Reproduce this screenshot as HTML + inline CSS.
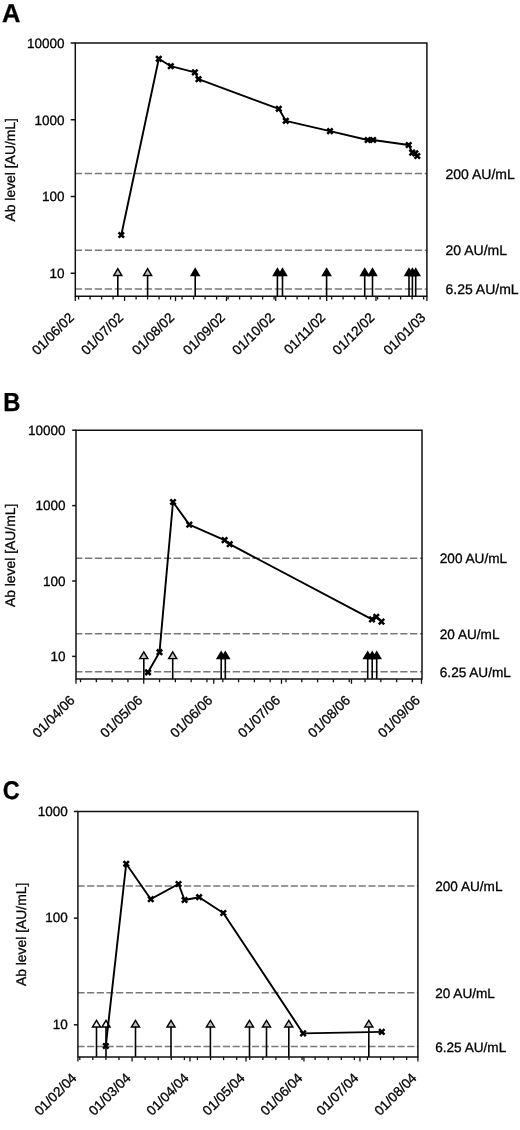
<!DOCTYPE html>
<html><head><meta charset="utf-8"><style>
html,body{margin:0;padding:0;background:#fff;}
body{width:520px;height:1130px;overflow:hidden;}
svg{display:block;font-family:"Liberation Sans", sans-serif;}
text{stroke:#000;stroke-width:0.3px;text-rendering:geometricPrecision;}
svg{will-change:transform;}
</style></head><body>
<svg width="520" height="1130" viewBox="0 0 520 1130" font-family='"Liberation Sans", sans-serif' fill="#000">
<rect width="520" height="1130" fill="#fff"/>
<line x1="75.30" y1="173.40" x2="426.90" y2="173.40" stroke="#787878" stroke-width="1.5" stroke-dasharray="7.4 2.6" stroke-dashoffset="0.6"/>
<line x1="75.30" y1="250.15" x2="426.90" y2="250.15" stroke="#787878" stroke-width="1.5" stroke-dasharray="7.4 2.6" stroke-dashoffset="0.6"/>
<line x1="75.30" y1="288.92" x2="426.90" y2="288.92" stroke="#787878" stroke-width="1.5" stroke-dasharray="7.4 2.6" stroke-dashoffset="0.6"/>
<text x="445.50" y="178.70" font-size="14">200 AU/mL</text>
<text x="445.50" y="255.45" font-size="14">20 AU/mL</text>
<text x="445.50" y="294.22" font-size="14">6.25 AU/mL</text>
<line x1="70.70" y1="43.00" x2="75.30" y2="43.00" stroke="#111" stroke-width="1.5"/>
<text x="64.60" y="47.80" font-size="13.5" text-anchor="end">10000</text>
<line x1="70.70" y1="119.75" x2="75.30" y2="119.75" stroke="#111" stroke-width="1.5"/>
<text x="64.60" y="124.55" font-size="13.5" text-anchor="end">1000</text>
<line x1="70.70" y1="196.50" x2="75.30" y2="196.50" stroke="#111" stroke-width="1.5"/>
<text x="64.60" y="201.30" font-size="13.5" text-anchor="end">100</text>
<line x1="70.70" y1="273.25" x2="75.30" y2="273.25" stroke="#111" stroke-width="1.5"/>
<text x="64.60" y="278.05" font-size="13.5" text-anchor="end">10</text>
<text transform="translate(14.50,169.80) rotate(-90)" font-size="13.9" text-anchor="middle">Ab level [AU/mL]</text>
<line x1="75.30" y1="296.35" x2="75.30" y2="301.05" stroke="#111" stroke-width="1.3"/>
<text transform="translate(74.80,318.35) rotate(-45)" font-size="13.6" text-anchor="end">01/06/02</text>
<line x1="78.59" y1="296.35" x2="78.59" y2="299.55" stroke="#111" stroke-width="1.3"/>
<line x1="90.09" y1="296.35" x2="90.09" y2="299.55" stroke="#111" stroke-width="1.3"/>
<line x1="101.59" y1="296.35" x2="101.59" y2="299.55" stroke="#111" stroke-width="1.3"/>
<line x1="113.09" y1="296.35" x2="113.09" y2="299.55" stroke="#111" stroke-width="1.3"/>
<line x1="124.59" y1="296.35" x2="124.59" y2="301.05" stroke="#111" stroke-width="1.3"/>
<text transform="translate(124.09,318.35) rotate(-45)" font-size="13.6" text-anchor="end">01/07/02</text>
<line x1="136.09" y1="296.35" x2="136.09" y2="299.55" stroke="#111" stroke-width="1.3"/>
<line x1="147.59" y1="296.35" x2="147.59" y2="299.55" stroke="#111" stroke-width="1.3"/>
<line x1="159.09" y1="296.35" x2="159.09" y2="299.55" stroke="#111" stroke-width="1.3"/>
<line x1="170.59" y1="296.35" x2="170.59" y2="299.55" stroke="#111" stroke-width="1.3"/>
<line x1="175.52" y1="296.35" x2="175.52" y2="301.05" stroke="#111" stroke-width="1.3"/>
<text transform="translate(175.02,318.35) rotate(-45)" font-size="13.6" text-anchor="end">01/08/02</text>
<line x1="182.09" y1="296.35" x2="182.09" y2="299.55" stroke="#111" stroke-width="1.3"/>
<line x1="193.60" y1="296.35" x2="193.60" y2="299.55" stroke="#111" stroke-width="1.3"/>
<line x1="205.10" y1="296.35" x2="205.10" y2="299.55" stroke="#111" stroke-width="1.3"/>
<line x1="216.60" y1="296.35" x2="216.60" y2="299.55" stroke="#111" stroke-width="1.3"/>
<line x1="226.46" y1="296.35" x2="226.46" y2="301.05" stroke="#111" stroke-width="1.3"/>
<text transform="translate(225.96,318.35) rotate(-45)" font-size="13.6" text-anchor="end">01/09/02</text>
<line x1="228.10" y1="296.35" x2="228.10" y2="299.55" stroke="#111" stroke-width="1.3"/>
<line x1="239.60" y1="296.35" x2="239.60" y2="299.55" stroke="#111" stroke-width="1.3"/>
<line x1="251.10" y1="296.35" x2="251.10" y2="299.55" stroke="#111" stroke-width="1.3"/>
<line x1="262.60" y1="296.35" x2="262.60" y2="299.55" stroke="#111" stroke-width="1.3"/>
<line x1="274.10" y1="296.35" x2="274.10" y2="299.55" stroke="#111" stroke-width="1.3"/>
<line x1="275.75" y1="296.35" x2="275.75" y2="301.05" stroke="#111" stroke-width="1.3"/>
<text transform="translate(275.25,318.35) rotate(-45)" font-size="13.6" text-anchor="end">01/10/02</text>
<line x1="285.60" y1="296.35" x2="285.60" y2="299.55" stroke="#111" stroke-width="1.3"/>
<line x1="297.11" y1="296.35" x2="297.11" y2="299.55" stroke="#111" stroke-width="1.3"/>
<line x1="308.61" y1="296.35" x2="308.61" y2="299.55" stroke="#111" stroke-width="1.3"/>
<line x1="320.11" y1="296.35" x2="320.11" y2="299.55" stroke="#111" stroke-width="1.3"/>
<line x1="326.68" y1="296.35" x2="326.68" y2="301.05" stroke="#111" stroke-width="1.3"/>
<text transform="translate(326.18,318.35) rotate(-45)" font-size="13.6" text-anchor="end">01/11/02</text>
<line x1="331.61" y1="296.35" x2="331.61" y2="299.55" stroke="#111" stroke-width="1.3"/>
<line x1="343.11" y1="296.35" x2="343.11" y2="299.55" stroke="#111" stroke-width="1.3"/>
<line x1="354.61" y1="296.35" x2="354.61" y2="299.55" stroke="#111" stroke-width="1.3"/>
<line x1="366.11" y1="296.35" x2="366.11" y2="299.55" stroke="#111" stroke-width="1.3"/>
<line x1="375.97" y1="296.35" x2="375.97" y2="301.05" stroke="#111" stroke-width="1.3"/>
<text transform="translate(375.47,318.35) rotate(-45)" font-size="13.6" text-anchor="end">01/12/02</text>
<line x1="377.61" y1="296.35" x2="377.61" y2="299.55" stroke="#111" stroke-width="1.3"/>
<line x1="389.11" y1="296.35" x2="389.11" y2="299.55" stroke="#111" stroke-width="1.3"/>
<line x1="400.61" y1="296.35" x2="400.61" y2="299.55" stroke="#111" stroke-width="1.3"/>
<line x1="412.12" y1="296.35" x2="412.12" y2="299.55" stroke="#111" stroke-width="1.3"/>
<line x1="423.62" y1="296.35" x2="423.62" y2="299.55" stroke="#111" stroke-width="1.3"/>
<line x1="426.90" y1="296.35" x2="426.90" y2="301.05" stroke="#111" stroke-width="1.3"/>
<text transform="translate(426.40,318.35) rotate(-45)" font-size="13.6" text-anchor="end">01/01/03</text>
<line x1="117.80" y1="275.25" x2="117.80" y2="296.35" stroke="#000" stroke-width="1.6"/>
<polygon points="117.80,267.35 112.50,276.15 123.10,276.15" fill="#000"/>
<polygon points="117.80,270.15 115.00,274.75 120.60,274.75" fill="#c4c4c4"/>
<line x1="147.60" y1="275.25" x2="147.60" y2="296.35" stroke="#000" stroke-width="1.6"/>
<polygon points="147.60,267.35 142.30,276.15 152.90,276.15" fill="#000"/>
<polygon points="147.60,270.15 144.80,274.75 150.40,274.75" fill="#c4c4c4"/>
<line x1="195.20" y1="275.25" x2="195.20" y2="296.35" stroke="#000" stroke-width="1.6"/>
<polygon points="195.20,267.35 189.90,276.15 200.50,276.15" fill="#000"/>
<line x1="277.40" y1="275.25" x2="277.40" y2="296.35" stroke="#000" stroke-width="1.6"/>
<polygon points="277.40,267.35 272.10,276.15 282.70,276.15" fill="#000"/>
<line x1="282.50" y1="275.25" x2="282.50" y2="296.35" stroke="#000" stroke-width="1.6"/>
<polygon points="282.50,267.35 277.20,276.15 287.80,276.15" fill="#000"/>
<line x1="326.60" y1="275.25" x2="326.60" y2="296.35" stroke="#000" stroke-width="1.6"/>
<polygon points="326.60,267.35 321.30,276.15 331.90,276.15" fill="#000"/>
<line x1="364.70" y1="275.25" x2="364.70" y2="296.35" stroke="#000" stroke-width="1.6"/>
<polygon points="364.70,267.35 359.40,276.15 370.00,276.15" fill="#000"/>
<line x1="372.50" y1="275.25" x2="372.50" y2="296.35" stroke="#000" stroke-width="1.6"/>
<polygon points="372.50,267.35 367.20,276.15 377.80,276.15" fill="#000"/>
<line x1="409.00" y1="275.25" x2="409.00" y2="296.35" stroke="#000" stroke-width="1.6"/>
<polygon points="409.00,267.35 403.70,276.15 414.30,276.15" fill="#000"/>
<line x1="412.40" y1="275.25" x2="412.40" y2="296.35" stroke="#000" stroke-width="1.6"/>
<polygon points="412.40,267.35 407.10,276.15 417.70,276.15" fill="#000"/>
<line x1="415.70" y1="275.25" x2="415.70" y2="296.35" stroke="#000" stroke-width="1.6"/>
<polygon points="415.70,267.35 410.40,276.15 421.00,276.15" fill="#000"/>
<polyline fill="none" stroke="#000" stroke-width="1.9" stroke-linejoin="round" points="121.30,235.00 158.80,58.80 170.80,66.20 194.90,72.40 198.50,79.20 278.80,108.80 285.80,120.80 330.00,131.20 367.70,140.00 373.10,140.00 408.70,145.00 412.20,152.60 415.30,153.40 417.30,156.00"/>
<path d="M118.60,232.30L124.00,237.70M124.00,232.30L118.60,237.70" stroke="#000" stroke-width="2.5"/>
<path d="M156.10,56.10L161.50,61.50M161.50,56.10L156.10,61.50" stroke="#000" stroke-width="2.5"/>
<path d="M168.10,63.50L173.50,68.90M173.50,63.50L168.10,68.90" stroke="#000" stroke-width="2.5"/>
<path d="M192.20,69.70L197.60,75.10M197.60,69.70L192.20,75.10" stroke="#000" stroke-width="2.5"/>
<path d="M195.80,76.50L201.20,81.90M201.20,76.50L195.80,81.90" stroke="#000" stroke-width="2.5"/>
<path d="M276.10,106.10L281.50,111.50M281.50,106.10L276.10,111.50" stroke="#000" stroke-width="2.5"/>
<path d="M283.10,118.10L288.50,123.50M288.50,118.10L283.10,123.50" stroke="#000" stroke-width="2.5"/>
<path d="M327.30,128.50L332.70,133.90M332.70,128.50L327.30,133.90" stroke="#000" stroke-width="2.5"/>
<path d="M365.00,137.30L370.40,142.70M370.40,137.30L365.00,142.70" stroke="#000" stroke-width="2.5"/>
<path d="M370.40,137.30L375.80,142.70M375.80,137.30L370.40,142.70" stroke="#000" stroke-width="2.5"/>
<path d="M406.00,142.30L411.40,147.70M411.40,142.30L406.00,147.70" stroke="#000" stroke-width="2.5"/>
<path d="M409.50,149.90L414.90,155.30M414.90,149.90L409.50,155.30" stroke="#000" stroke-width="2.5"/>
<path d="M412.60,150.70L418.00,156.10M418.00,150.70L412.60,156.10" stroke="#000" stroke-width="2.5"/>
<path d="M414.60,153.30L420.00,158.70M420.00,153.30L414.60,158.70" stroke="#000" stroke-width="2.5"/>
<path d="M75.30,43.00H426.90V296.35H75.30Z" fill="none" stroke="#111" stroke-width="1.5" stroke-linejoin="miter"/>
<text transform="translate(2,22) scale(1.0,1.02)" font-size="25.5" font-weight="bold">A</text>
<line x1="76.00" y1="558.30" x2="422.00" y2="558.30" stroke="#787878" stroke-width="1.5" stroke-dasharray="7.3 2.55" stroke-dashoffset="0.85"/>
<line x1="76.00" y1="633.70" x2="422.00" y2="633.70" stroke="#787878" stroke-width="1.5" stroke-dasharray="7.3 2.55" stroke-dashoffset="0.85"/>
<line x1="76.00" y1="671.79" x2="422.00" y2="671.79" stroke="#787878" stroke-width="1.5" stroke-dasharray="7.3 2.55" stroke-dashoffset="0.85"/>
<text x="439.80" y="563.40" font-size="13.6">200 AU/mL</text>
<text x="439.80" y="638.80" font-size="13.6">20 AU/mL</text>
<text x="439.80" y="676.89" font-size="13.6">6.25 AU/mL</text>
<line x1="72.20" y1="430.20" x2="76.00" y2="430.20" stroke="#111" stroke-width="1.5"/>
<text x="65.50" y="435.00" font-size="13.5" text-anchor="end">10000</text>
<line x1="72.20" y1="505.60" x2="76.00" y2="505.60" stroke="#111" stroke-width="1.5"/>
<text x="65.50" y="510.40" font-size="13.5" text-anchor="end">1000</text>
<line x1="72.20" y1="581.00" x2="76.00" y2="581.00" stroke="#111" stroke-width="1.5"/>
<text x="65.50" y="585.80" font-size="13.5" text-anchor="end">100</text>
<line x1="72.20" y1="656.40" x2="76.00" y2="656.40" stroke="#111" stroke-width="1.5"/>
<text x="65.50" y="661.20" font-size="13.5" text-anchor="end">10</text>
<text transform="translate(15.30,555.40) rotate(-90)" font-size="13.9" text-anchor="middle">Ab level [AU/mL]</text>
<line x1="76.00" y1="679.10" x2="76.00" y2="683.80" stroke="#111" stroke-width="1.3"/>
<text transform="translate(75.50,701.10) rotate(-45)" font-size="13.6" text-anchor="end">01/04/06</text>
<line x1="80.52" y1="679.10" x2="80.52" y2="682.30" stroke="#111" stroke-width="1.3"/>
<line x1="96.32" y1="679.10" x2="96.32" y2="682.30" stroke="#111" stroke-width="1.3"/>
<line x1="112.13" y1="679.10" x2="112.13" y2="682.30" stroke="#111" stroke-width="1.3"/>
<line x1="127.93" y1="679.10" x2="127.93" y2="682.30" stroke="#111" stroke-width="1.3"/>
<line x1="143.74" y1="679.10" x2="143.74" y2="683.80" stroke="#111" stroke-width="1.3"/>
<text transform="translate(143.24,701.10) rotate(-45)" font-size="13.6" text-anchor="end">01/05/06</text>
<line x1="159.55" y1="679.10" x2="159.55" y2="682.30" stroke="#111" stroke-width="1.3"/>
<line x1="175.35" y1="679.10" x2="175.35" y2="682.30" stroke="#111" stroke-width="1.3"/>
<line x1="191.16" y1="679.10" x2="191.16" y2="682.30" stroke="#111" stroke-width="1.3"/>
<line x1="206.96" y1="679.10" x2="206.96" y2="682.30" stroke="#111" stroke-width="1.3"/>
<line x1="213.74" y1="679.10" x2="213.74" y2="683.80" stroke="#111" stroke-width="1.3"/>
<text transform="translate(213.24,701.10) rotate(-45)" font-size="13.6" text-anchor="end">01/06/06</text>
<line x1="222.77" y1="679.10" x2="222.77" y2="682.30" stroke="#111" stroke-width="1.3"/>
<line x1="238.58" y1="679.10" x2="238.58" y2="682.30" stroke="#111" stroke-width="1.3"/>
<line x1="254.38" y1="679.10" x2="254.38" y2="682.30" stroke="#111" stroke-width="1.3"/>
<line x1="270.19" y1="679.10" x2="270.19" y2="682.30" stroke="#111" stroke-width="1.3"/>
<line x1="281.48" y1="679.10" x2="281.48" y2="683.80" stroke="#111" stroke-width="1.3"/>
<text transform="translate(280.98,701.10) rotate(-45)" font-size="13.6" text-anchor="end">01/07/06</text>
<line x1="285.99" y1="679.10" x2="285.99" y2="682.30" stroke="#111" stroke-width="1.3"/>
<line x1="301.80" y1="679.10" x2="301.80" y2="682.30" stroke="#111" stroke-width="1.3"/>
<line x1="317.61" y1="679.10" x2="317.61" y2="682.30" stroke="#111" stroke-width="1.3"/>
<line x1="333.41" y1="679.10" x2="333.41" y2="682.30" stroke="#111" stroke-width="1.3"/>
<line x1="349.22" y1="679.10" x2="349.22" y2="682.30" stroke="#111" stroke-width="1.3"/>
<line x1="351.48" y1="679.10" x2="351.48" y2="683.80" stroke="#111" stroke-width="1.3"/>
<text transform="translate(350.98,701.10) rotate(-45)" font-size="13.6" text-anchor="end">01/08/06</text>
<line x1="365.02" y1="679.10" x2="365.02" y2="682.30" stroke="#111" stroke-width="1.3"/>
<line x1="380.83" y1="679.10" x2="380.83" y2="682.30" stroke="#111" stroke-width="1.3"/>
<line x1="396.64" y1="679.10" x2="396.64" y2="682.30" stroke="#111" stroke-width="1.3"/>
<line x1="412.44" y1="679.10" x2="412.44" y2="682.30" stroke="#111" stroke-width="1.3"/>
<line x1="421.47" y1="679.10" x2="421.47" y2="683.80" stroke="#111" stroke-width="1.3"/>
<text transform="translate(420.97,701.10) rotate(-45)" font-size="13.6" text-anchor="end">01/09/06</text>
<line x1="143.80" y1="658.40" x2="143.80" y2="679.10" stroke="#000" stroke-width="1.6"/>
<polygon points="143.80,650.50 138.50,659.30 149.10,659.30" fill="#000"/>
<polygon points="143.80,653.30 141.00,657.90 146.60,657.90" fill="#c4c4c4"/>
<line x1="172.70" y1="658.40" x2="172.70" y2="679.10" stroke="#000" stroke-width="1.6"/>
<polygon points="172.70,650.50 167.40,659.30 178.00,659.30" fill="#000"/>
<polygon points="172.70,653.30 169.90,657.90 175.50,657.90" fill="#c4c4c4"/>
<line x1="221.20" y1="658.40" x2="221.20" y2="679.10" stroke="#000" stroke-width="1.6"/>
<polygon points="221.20,650.50 215.90,659.30 226.50,659.30" fill="#000"/>
<line x1="225.30" y1="658.40" x2="225.30" y2="679.10" stroke="#000" stroke-width="1.6"/>
<polygon points="225.30,650.50 220.00,659.30 230.60,659.30" fill="#000"/>
<line x1="367.70" y1="658.40" x2="367.70" y2="679.10" stroke="#000" stroke-width="1.6"/>
<polygon points="367.70,650.50 362.40,659.30 373.00,659.30" fill="#000"/>
<line x1="372.20" y1="658.40" x2="372.20" y2="679.10" stroke="#000" stroke-width="1.6"/>
<polygon points="372.20,650.50 366.90,659.30 377.50,659.30" fill="#000"/>
<line x1="376.70" y1="658.40" x2="376.70" y2="679.10" stroke="#000" stroke-width="1.6"/>
<polygon points="376.70,650.50 371.40,659.30 382.00,659.30" fill="#000"/>
<polyline fill="none" stroke="#000" stroke-width="1.9" stroke-linejoin="round" points="148.00,672.30 159.50,652.20 173.00,502.00 189.30,524.60 224.60,540.10 229.70,544.20 372.00,619.40 376.30,616.80 381.50,621.60"/>
<path d="M145.30,669.60L150.70,675.00M150.70,669.60L145.30,675.00" stroke="#000" stroke-width="2.5"/>
<path d="M156.80,649.50L162.20,654.90M162.20,649.50L156.80,654.90" stroke="#000" stroke-width="2.5"/>
<path d="M170.30,499.30L175.70,504.70M175.70,499.30L170.30,504.70" stroke="#000" stroke-width="2.5"/>
<path d="M186.60,521.90L192.00,527.30M192.00,521.90L186.60,527.30" stroke="#000" stroke-width="2.5"/>
<path d="M221.90,537.40L227.30,542.80M227.30,537.40L221.90,542.80" stroke="#000" stroke-width="2.5"/>
<path d="M227.00,541.50L232.40,546.90M232.40,541.50L227.00,546.90" stroke="#000" stroke-width="2.5"/>
<path d="M369.30,616.70L374.70,622.10M374.70,616.70L369.30,622.10" stroke="#000" stroke-width="2.5"/>
<path d="M373.60,614.10L379.00,619.50M379.00,614.10L373.60,619.50" stroke="#000" stroke-width="2.5"/>
<path d="M378.80,618.90L384.20,624.30M384.20,618.90L378.80,624.30" stroke="#000" stroke-width="2.5"/>
<path d="M76.00,430.20H422.00V679.10H76.00Z" fill="none" stroke="#111" stroke-width="1.5" stroke-linejoin="miter"/>
<text transform="translate(3.2,410.5) scale(0.97,1.065)" font-size="24.5" font-weight="bold">B</text>
<line x1="77.90" y1="886.05" x2="417.90" y2="886.05" stroke="#787878" stroke-width="1.5" stroke-dasharray="7.2 2.5" stroke-dashoffset="0.54"/>
<line x1="77.90" y1="992.70" x2="417.90" y2="992.70" stroke="#787878" stroke-width="1.5" stroke-dasharray="7.2 2.5" stroke-dashoffset="0.54"/>
<line x1="77.90" y1="1046.57" x2="417.90" y2="1046.57" stroke="#787878" stroke-width="1.5" stroke-dasharray="7.2 2.5" stroke-dashoffset="0.54"/>
<text x="435.20" y="891.15" font-size="13.6">200 AU/mL</text>
<text x="435.20" y="997.80" font-size="13.6">20 AU/mL</text>
<text x="435.20" y="1051.67" font-size="13.6">6.25 AU/mL</text>
<line x1="73.90" y1="811.50" x2="77.90" y2="811.50" stroke="#111" stroke-width="1.5"/>
<text x="67.80" y="815.80" font-size="13.5" text-anchor="end">1000</text>
<line x1="73.90" y1="918.15" x2="77.90" y2="918.15" stroke="#111" stroke-width="1.5"/>
<text x="67.80" y="922.45" font-size="13.5" text-anchor="end">100</text>
<line x1="73.90" y1="1024.80" x2="77.90" y2="1024.80" stroke="#111" stroke-width="1.5"/>
<text x="67.80" y="1029.10" font-size="13.5" text-anchor="end">10</text>
<text transform="translate(26.00,934.40) rotate(-90)" font-size="13.9" text-anchor="middle">Ab level [AU/mL]</text>
<line x1="77.90" y1="1056.90" x2="77.90" y2="1061.60" stroke="#111" stroke-width="1.3"/>
<text transform="translate(77.40,1078.90) rotate(-45)" font-size="13.6" text-anchor="end">01/02/04</text>
<line x1="79.77" y1="1056.90" x2="79.77" y2="1060.10" stroke="#111" stroke-width="1.3"/>
<line x1="92.84" y1="1056.90" x2="92.84" y2="1060.10" stroke="#111" stroke-width="1.3"/>
<line x1="105.92" y1="1056.90" x2="105.92" y2="1060.10" stroke="#111" stroke-width="1.3"/>
<line x1="119.00" y1="1056.90" x2="119.00" y2="1060.10" stroke="#111" stroke-width="1.3"/>
<line x1="132.07" y1="1056.90" x2="132.07" y2="1061.60" stroke="#111" stroke-width="1.3"/>
<text transform="translate(131.57,1078.90) rotate(-45)" font-size="13.6" text-anchor="end">01/03/04</text>
<line x1="145.15" y1="1056.90" x2="145.15" y2="1060.10" stroke="#111" stroke-width="1.3"/>
<line x1="158.22" y1="1056.90" x2="158.22" y2="1060.10" stroke="#111" stroke-width="1.3"/>
<line x1="171.30" y1="1056.90" x2="171.30" y2="1060.10" stroke="#111" stroke-width="1.3"/>
<line x1="184.38" y1="1056.90" x2="184.38" y2="1060.10" stroke="#111" stroke-width="1.3"/>
<line x1="189.98" y1="1056.90" x2="189.98" y2="1061.60" stroke="#111" stroke-width="1.3"/>
<text transform="translate(189.48,1078.90) rotate(-45)" font-size="13.6" text-anchor="end">01/04/04</text>
<line x1="197.45" y1="1056.90" x2="197.45" y2="1060.10" stroke="#111" stroke-width="1.3"/>
<line x1="210.53" y1="1056.90" x2="210.53" y2="1060.10" stroke="#111" stroke-width="1.3"/>
<line x1="223.60" y1="1056.90" x2="223.60" y2="1060.10" stroke="#111" stroke-width="1.3"/>
<line x1="236.68" y1="1056.90" x2="236.68" y2="1060.10" stroke="#111" stroke-width="1.3"/>
<line x1="246.02" y1="1056.90" x2="246.02" y2="1061.60" stroke="#111" stroke-width="1.3"/>
<text transform="translate(245.52,1078.90) rotate(-45)" font-size="13.6" text-anchor="end">01/05/04</text>
<line x1="249.76" y1="1056.90" x2="249.76" y2="1060.10" stroke="#111" stroke-width="1.3"/>
<line x1="262.83" y1="1056.90" x2="262.83" y2="1060.10" stroke="#111" stroke-width="1.3"/>
<line x1="275.91" y1="1056.90" x2="275.91" y2="1060.10" stroke="#111" stroke-width="1.3"/>
<line x1="288.98" y1="1056.90" x2="288.98" y2="1060.10" stroke="#111" stroke-width="1.3"/>
<line x1="302.06" y1="1056.90" x2="302.06" y2="1060.10" stroke="#111" stroke-width="1.3"/>
<line x1="303.93" y1="1056.90" x2="303.93" y2="1061.60" stroke="#111" stroke-width="1.3"/>
<text transform="translate(303.43,1078.90) rotate(-45)" font-size="13.6" text-anchor="end">01/06/04</text>
<line x1="315.14" y1="1056.90" x2="315.14" y2="1060.10" stroke="#111" stroke-width="1.3"/>
<line x1="328.21" y1="1056.90" x2="328.21" y2="1060.10" stroke="#111" stroke-width="1.3"/>
<line x1="341.29" y1="1056.90" x2="341.29" y2="1060.10" stroke="#111" stroke-width="1.3"/>
<line x1="354.36" y1="1056.90" x2="354.36" y2="1060.10" stroke="#111" stroke-width="1.3"/>
<line x1="359.97" y1="1056.90" x2="359.97" y2="1061.60" stroke="#111" stroke-width="1.3"/>
<text transform="translate(359.47,1078.90) rotate(-45)" font-size="13.6" text-anchor="end">01/07/04</text>
<line x1="367.44" y1="1056.90" x2="367.44" y2="1060.10" stroke="#111" stroke-width="1.3"/>
<line x1="380.52" y1="1056.90" x2="380.52" y2="1060.10" stroke="#111" stroke-width="1.3"/>
<line x1="393.59" y1="1056.90" x2="393.59" y2="1060.10" stroke="#111" stroke-width="1.3"/>
<line x1="406.67" y1="1056.90" x2="406.67" y2="1060.10" stroke="#111" stroke-width="1.3"/>
<line x1="417.88" y1="1056.90" x2="417.88" y2="1061.60" stroke="#111" stroke-width="1.3"/>
<text transform="translate(417.38,1078.90) rotate(-45)" font-size="13.6" text-anchor="end">01/08/04</text>
<line x1="96.50" y1="1026.80" x2="96.50" y2="1056.90" stroke="#000" stroke-width="1.6"/>
<polygon points="96.50,1018.90 91.20,1027.70 101.80,1027.70" fill="#000"/>
<polygon points="96.50,1021.70 93.70,1026.30 99.30,1026.30" fill="#f4f4f4"/>
<line x1="106.00" y1="1026.80" x2="106.00" y2="1056.90" stroke="#000" stroke-width="1.6"/>
<polygon points="106.00,1018.90 100.70,1027.70 111.30,1027.70" fill="#000"/>
<polygon points="106.00,1021.70 103.20,1026.30 108.80,1026.30" fill="#f4f4f4"/>
<line x1="135.50" y1="1026.80" x2="135.50" y2="1056.90" stroke="#000" stroke-width="1.6"/>
<polygon points="135.50,1018.90 130.20,1027.70 140.80,1027.70" fill="#000"/>
<polygon points="135.50,1021.70 132.70,1026.30 138.30,1026.30" fill="#c4c4c4"/>
<line x1="171.00" y1="1026.80" x2="171.00" y2="1056.90" stroke="#000" stroke-width="1.6"/>
<polygon points="171.00,1018.90 165.70,1027.70 176.30,1027.70" fill="#000"/>
<polygon points="171.00,1021.70 168.20,1026.30 173.80,1026.30" fill="#c4c4c4"/>
<line x1="210.40" y1="1026.80" x2="210.40" y2="1056.90" stroke="#000" stroke-width="1.6"/>
<polygon points="210.40,1018.90 205.10,1027.70 215.70,1027.70" fill="#000"/>
<polygon points="210.40,1021.70 207.60,1026.30 213.20,1026.30" fill="#c4c4c4"/>
<line x1="249.50" y1="1026.80" x2="249.50" y2="1056.90" stroke="#000" stroke-width="1.6"/>
<polygon points="249.50,1018.90 244.20,1027.70 254.80,1027.70" fill="#000"/>
<polygon points="249.50,1021.70 246.70,1026.30 252.30,1026.30" fill="#c4c4c4"/>
<line x1="266.50" y1="1026.80" x2="266.50" y2="1056.90" stroke="#000" stroke-width="1.6"/>
<polygon points="266.50,1018.90 261.20,1027.70 271.80,1027.70" fill="#000"/>
<polygon points="266.50,1021.70 263.70,1026.30 269.30,1026.30" fill="#c4c4c4"/>
<line x1="288.80" y1="1026.80" x2="288.80" y2="1056.90" stroke="#000" stroke-width="1.6"/>
<polygon points="288.80,1018.90 283.50,1027.70 294.10,1027.70" fill="#000"/>
<polygon points="288.80,1021.70 286.00,1026.30 291.60,1026.30" fill="#c4c4c4"/>
<line x1="368.80" y1="1026.80" x2="368.80" y2="1056.90" stroke="#000" stroke-width="1.6"/>
<polygon points="368.80,1018.90 363.50,1027.70 374.10,1027.70" fill="#000"/>
<polygon points="368.80,1021.70 366.00,1026.30 371.60,1026.30" fill="#c4c4c4"/>
<polyline fill="none" stroke="#000" stroke-width="1.9" stroke-linejoin="round" points="105.80,1046.00 126.20,863.80 150.80,899.20 178.50,884.00 184.60,900.00 199.10,897.20 223.30,913.00 303.10,1033.40 381.80,1031.90"/>
<path d="M103.10,1043.30L108.50,1048.70M108.50,1043.30L103.10,1048.70" stroke="#000" stroke-width="2.5"/>
<path d="M123.50,861.10L128.90,866.50M128.90,861.10L123.50,866.50" stroke="#000" stroke-width="2.5"/>
<path d="M148.10,896.50L153.50,901.90M153.50,896.50L148.10,901.90" stroke="#000" stroke-width="2.5"/>
<path d="M175.80,881.30L181.20,886.70M181.20,881.30L175.80,886.70" stroke="#000" stroke-width="2.5"/>
<path d="M181.90,897.30L187.30,902.70M187.30,897.30L181.90,902.70" stroke="#000" stroke-width="2.5"/>
<path d="M196.40,894.50L201.80,899.90M201.80,894.50L196.40,899.90" stroke="#000" stroke-width="2.5"/>
<path d="M220.60,910.30L226.00,915.70M226.00,910.30L220.60,915.70" stroke="#000" stroke-width="2.5"/>
<path d="M300.40,1030.70L305.80,1036.10M305.80,1030.70L300.40,1036.10" stroke="#000" stroke-width="2.5"/>
<path d="M379.10,1029.20L384.50,1034.60M384.50,1029.20L379.10,1034.60" stroke="#000" stroke-width="2.5"/>
<path d="M77.90,811.50H417.90V1056.90H77.90Z" fill="none" stroke="#111" stroke-width="1.5" stroke-linejoin="miter"/>
<text transform="translate(2.7,798.9) scale(0.93,1.02)" font-size="25.2" font-weight="bold">C</text>
</svg>
</body></html>
